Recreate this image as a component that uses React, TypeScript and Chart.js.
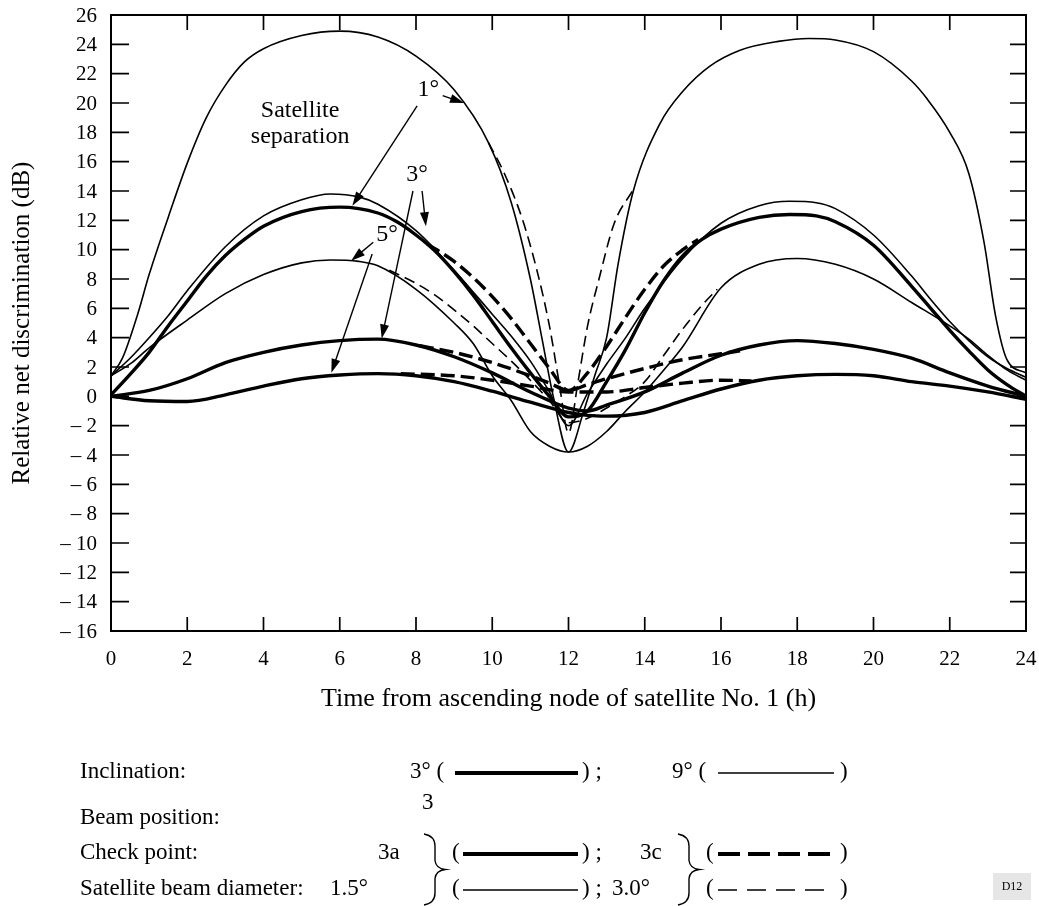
import { useEffect, useRef } from "react";
import { Chart, registerables } from "chart.js";

Chart.register(...registerables);

const FONT = '"Liberation Serif", "Times New Roman", Times, serif';

const xTickValues = [0, 2, 4, 6, 8, 10, 12, 14, 16, 18, 20, 22, 24];
const yTickValues = [-16, -14, -12, -10, -8, -6, -4, -2, 0, 2, 4, 6, 8, 10, 12, 14, 16, 18, 20, 22, 24, 26];

// Inclination 9°, satellite separation 1°, beam 1.5° (thin solid)
const tA = [0, 0.3, 0.7, 1, 1.5, 2, 2.5, 3, 3.5, 4, 5, 6, 7, 8, 9, 9.9, 10.5, 11, 11.3, 11.6, 12, 12.4, 12.7, 13, 13.3, 13.7, 14.4, 15, 15.7, 16.5, 17.5, 18.3, 19, 20, 21, 21.4, 22, 22.5, 22.9, 23.2, 23.5, 24];
const vA = [1.4, 2.6, 5.6, 8.3, 12.2, 15.9, 19, 21.2, 22.8, 23.7, 24.6, 24.9, 24.5, 23.2, 20.9, 17.3, 13.2, 8, 4, 0, -3.8, -1.0, 1.5, 4, 9, 14, 18.6, 20.8, 22.5, 23.6, 24.2, 24.4, 24.3, 23.5, 21.5, 20.3, 18, 15.2, 10.5, 5.5, 2.5, 1.6];
// same, beam 3.0° (thin dashed, where it departs)
const tB = [9.9, 10.3, 10.8, 11.2, 11.5, 11.75, 12, 12.25, 12.5, 12.8, 13.2, 13.7];
const vB = [17.3, 15.3, 12.0, 8.3, 4.8, 1.0, -2.5, 1.0, 4.8, 8.0, 11.8, 14.1];
// Inclination 9°, separation 3° (thin solid)
const tC = [0, 0.5, 1, 1.5, 2, 3, 4, 5, 5.75, 6.5, 7, 8, 9, 10, 10.5, 11, 11.5, 12, 12.5, 13, 13.5, 14, 15, 16, 17, 17.8, 18.5, 19, 20, 21, 21.5, 22, 22.5, 23, 23.5, 24];
const vC = [1.4, 2.6, 4, 5.5, 7.2, 10.2, 12.3, 13.4, 13.8, 13.6, 13.1, 11.3, 8.6, 5.6, 4.1, 2.4, 0.3, -2.0, 0.2, 2.2, 4, 6, 9.4, 11.8, 13, 13.3, 13.2, 12.8, 11, 8.2, 6.6, 5.1, 3.8, 2.7, 1.9, 1.3];
// Inclination 3°, separation 1° (thick solid)
const tD = [0, 0.5, 1, 1.5, 2, 2.5, 3, 3.5, 4, 5, 6, 7, 7.5, 8, 8.5, 9, 9.5, 10, 10.5, 11, 11.5, 12, 12.5, 13, 13.5, 14, 14.5, 15, 15.5, 16, 17, 17.8, 18.5, 19, 20, 21, 21.5, 22, 22.5, 23, 23.5, 24];
const vD = [0.1, 1.5, 3, 4.8, 6.5, 8.2, 9.6, 10.7, 11.6, 12.6, 12.9, 12.5, 11.9, 11, 9.9, 8.5, 6.9, 5.1, 3.3, 1.6, 0, -1.4, -1, 1, 3.2, 5.7, 7.9, 9.6, 10.7, 11.4, 12.2, 12.4, 12.3, 11.9, 10.3, 7.5, 6, 4.5, 3.1, 1.8, 0.8, 0];
// Inclination 3°, separation 3° (thick solid)
const tE = [0, 1, 2, 3, 4, 5, 6, 7, 8, 9, 10, 11, 12, 12.5, 13, 14, 15, 16, 17, 18, 19, 20, 21, 22, 23, 24];
const vE = [0, 0.4, 1.2, 2.3, 3.0, 3.5, 3.8, 3.9, 3.5, 2.7, 1.6, 0.3, -0.8, -1.0, -0.6, 0.3, 1.6, 2.8, 3.5, 3.8, 3.6, 3.2, 2.6, 1.6, 0.7, 0];
// Inclination 3°, separation 5° (thick solid)
const tF = [0, 1, 2, 3, 4, 5, 6, 7, 8, 9, 10, 11, 12, 12.5, 13, 14, 15, 16, 17, 18, 19, 20, 21, 22, 23, 24];
const vF = [0, -0.3, -0.35, 0.1, 0.7, 1.2, 1.45, 1.55, 1.4, 1.0, 0.35, -0.4, -1.1, -1.3, -1.35, -1.1, -0.3, 0.5, 1.1, 1.4, 1.5, 1.4, 1.0, 0.7, 0.3, -0.2];
// Inclination 9°, separation 5° (thin solid)
const tG = [0, 0.55, 1, 2, 3, 4, 5, 5.75, 6.5, 7, 8, 9, 9.5, 10, 10.5, 11, 11.5, 12, 12.5, 13, 13.5, 14, 14.5, 15, 16, 17, 18, 19, 20, 21, 22, 22.5, 23, 23.5, 24];
const vG = [1.4, 2.3, 3.3, 5.2, 7.0, 8.3, 9.1, 9.3, 9.2, 8.9, 7.3, 5.0, 3.6, 1.4, -0.3, -2.4, -3.4, -3.8, -3.4, -2.4, -1.0, 0.3, 1.8, 3.4, 7.4, 9.0, 9.4, 9.0, 8.0, 6.4, 4.8, 3.9, 2.8, 1.8, 1.1];
// separation 5°, beam 3.0° (thin dashed)
const tH = [7.3, 8, 8.5, 9, 9.5, 10, 10.5, 11, 11.5, 12, 12.5, 13, 13.5, 14, 14.5, 15, 15.5, 15.9];
const vH = [8.6, 7.7, 6.9, 5.9, 4.8, 3.6, 2.4, 1.1, -0.3, -1.8, -1.5, -0.8, 0, 1.0, 2.8, 4.6, 6.2, 7.3];
// check point 3c (thick dashed)
const tI = [8.3, 9, 9.5, 10, 10.5, 11, 11.5, 12, 12.5, 13, 13.5, 14, 14.5, 15, 15.4];
const vI = [10.4, 9.2, 8.1, 6.8, 5.3, 3.6, 1.9, 0.4, 1.6, 3.4, 5.4, 7.3, 8.9, 10.0, 10.7];
const tJ = [8.1, 9, 10, 11, 11.5, 12, 12.5, 13, 14, 15, 16, 16.5];
const vJ = [3.45, 3.0, 2.3, 1.4, 0.9, 0.4, 0.8, 1.2, 1.9, 2.5, 2.9, 3.1];
const tK = [7.6, 9, 10, 11, 12, 13, 14, 15, 16, 16.8];
const vK = [1.55, 1.4, 1.1, 0.7, 0.3, 0.3, 0.6, 0.9, 1.1, 1.05];

const THIN = 1.6;
const THICK = 3.4;
const THIN_DASH = [11, 6];
const THICK_DASH = [14, 6];

function pts(t: number[], v: number[]) {
  return t.map((x, i) => ({ x, y: v[i] }));
}

function ds(t: number[], v: number[], w: number, dash: number[]) {
  return {
    data: pts(t, v),
    borderColor: "#000",
    borderWidth: w,
    borderDash: dash,
    pointRadius: 0,
    fill: false,
    cubicInterpolationMode: "monotone" as const,
  };
}

function tickLabel(v: number) {
  return v < 0 ? "\u2013 " + Math.abs(v) : String(v);
}

function arrow(ctx: CanvasRenderingContext2D, x1: number, y1: number, x2: number, y2: number) {
  const ang = Math.atan2(y2 - y1, x2 - x1);
  const L = 14, Wd = 4.5;
  ctx.beginPath();
  ctx.moveTo(x1, y1);
  ctx.lineTo(x2 - Math.cos(ang) * L * 0.7, y2 - Math.sin(ang) * L * 0.7);
  ctx.lineWidth = 1.4;
  ctx.stroke();
  ctx.beginPath();
  ctx.moveTo(x2, y2);
  ctx.lineTo(x2 - Math.cos(ang) * L + Math.sin(ang) * Wd, y2 - Math.sin(ang) * L - Math.cos(ang) * Wd);
  ctx.lineTo(x2 - Math.cos(ang) * L - Math.sin(ang) * Wd, y2 - Math.sin(ang) * L + Math.cos(ang) * Wd);
  ctx.closePath();
  ctx.fill();
}

function brace(ctx: CanvasRenderingContext2D, xl: number, y0: number, y1: number) {
  const xm = xl + 11, xp = xl + 21, ym = (y0 + y1) / 2;
  ctx.beginPath();
  ctx.moveTo(xl, y0);
  ctx.quadraticCurveTo(xm, y0 + 2, xm, y0 + 12);
  ctx.lineTo(xm, ym - 9);
  ctx.quadraticCurveTo(xm + 1, ym - 1, xp, ym);
  ctx.quadraticCurveTo(xm + 1, ym + 1, xm, ym + 9);
  ctx.lineTo(xm, y1 - 12);
  ctx.quadraticCurveTo(xm, y1 - 2, xl, y1);
  ctx.lineWidth = 1.4;
  ctx.stroke();
}

const decor = {
  id: "decor",
  afterDraw(chart: any) {
    const { ctx, chartArea: a, scales } = chart;
    const x = scales.x, y = scales.y;
    const X = (t: number) => x.getPixelForValue(t);
    const Y = (v: number) => y.getPixelForValue(v);
    ctx.save();
    ctx.strokeStyle = "#000";
    ctx.fillStyle = "#000";
    ctx.setLineDash([]);
    // frame
    ctx.lineWidth = 2;
    ctx.strokeRect(a.left, a.top, a.right - a.left, a.bottom - a.top);
    // inner ticks
    ctx.lineWidth = 1.7;
    ctx.beginPath();
    for (const v of yTickValues) {
      if (v === yTickValues[0] || v === yTickValues[yTickValues.length - 1]) continue;
      const py = Y(v);
      ctx.moveTo(a.left, py);
      ctx.lineTo(a.left + 18, py);
      ctx.moveTo(a.right, py);
      ctx.lineTo(a.right - 16, py);
    }
    for (const v of xTickValues) {
      if (v === xTickValues[0] || v === xTickValues[xTickValues.length - 1]) continue;
      const px = X(v);
      ctx.moveTo(px, a.bottom);
      ctx.lineTo(px, a.bottom - 14);
      ctx.moveTo(px, a.top);
      ctx.lineTo(px, a.top + 15);
    }
    ctx.stroke();

    // tick labels
    ctx.font = `21px ${FONT}`;
    ctx.textBaseline = "middle";
    ctx.textAlign = "right";
    for (const v of yTickValues) ctx.fillText(tickLabel(v), a.left - 14, Y(v) + 1);
    ctx.textAlign = "center";
    for (const v of xTickValues) ctx.fillText(tickLabel(v), X(v), a.bottom + 28);

    // annotations
    ctx.font = `24px ${FONT}`;
    ctx.fillText("Satellite", X(4.96), Y(19.5));
    ctx.fillText("separation", X(4.96), Y(17.7));
    ctx.fillText("1°", X(8.32), Y(20.9));
    ctx.fillText("3°", X(8.03), Y(15.1));
    ctx.fillText("5°", X(7.24), Y(11.0));
    arrow(ctx, X(8.7), Y(20.5), X(9.26), Y(20.0));
    arrow(ctx, X(8.03), Y(19.8), X(6.33), Y(13.0));
    arrow(ctx, X(8.16), Y(14.0), X(8.26), Y(11.6));
    arrow(ctx, X(7.92), Y(14.0), X(7.1), Y(3.95));
    arrow(ctx, X(6.88), Y(10.5), X(6.3), Y(9.25));
    arrow(ctx, X(6.85), Y(9.7), X(5.78), Y(1.6));

    // axis titles
    ctx.font = `26px ${FONT}`;
    ctx.fillText("Time from ascending node of satellite No. 1 (h)", (a.left + a.right) / 2, 699);
    ctx.save();
    ctx.translate(22, (a.top + a.bottom) / 2);
    ctx.rotate(-Math.PI / 2);
    ctx.font = `25px ${FONT}`;
    ctx.fillText("Relative net discrimination (dB)", 0, 0);
    ctx.restore();

    // legend
    ctx.font = `23px ${FONT}`;
    ctx.textAlign = "left";
    const lx = 80;
    const r1 = 772, r0 = 803, r2 = 818, r3 = 853, r4 = 889;
    ctx.fillText("Inclination:", lx, r1);
    ctx.fillText("Beam position:", lx, r2);
    ctx.fillText("Check point:", lx, r3);
    ctx.fillText("Satellite beam diameter:", lx, r4);
    ctx.fillText("3° (", 410, r1);
    ctx.fillText(") ;", 582, r1);
    ctx.fillText("9° (", 672, r1);
    ctx.fillText(")", 840, r1);
    ctx.fillText("3", 422, r0);
    ctx.fillText("3a", 378, r3);
    ctx.fillText("(", 452, r3);
    ctx.fillText(") ;", 582, r3);
    ctx.fillText("3c", 640, r3);
    ctx.fillText("(", 706, r3);
    ctx.fillText(")", 840, r3);
    ctx.fillText("1.5°", 330, r4);
    ctx.fillText("(", 452, r4);
    ctx.fillText(") ;", 582, r4);
    ctx.fillText("3.0°", 612, r4);
    ctx.fillText("(", 706, r4);
    ctx.fillText(")", 840, r4);
    const seg = (x1: number, x2: number, yy: number, w: number, dash: number[]) => {
      ctx.beginPath();
      ctx.setLineDash(dash);
      ctx.lineWidth = w;
      ctx.moveTo(x1, yy);
      ctx.lineTo(x2, yy);
      ctx.stroke();
      ctx.setLineDash([]);
    };
    seg(455, 578, r1 + 1, 3.8, []);
    seg(718, 834, r1 + 1, 1.5, []);
    seg(463, 578, r3 + 1, 3.8, []);
    seg(718, 834, r3 + 1, 3.8, [22, 8]);
    seg(463, 578, r4 + 1, 1.5, []);
    seg(718, 834, r4 + 1, 1.5, [19, 10]);
    brace(ctx, 424, 834, 905);
    brace(ctx, 678, 834, 905);
    // D12 tag
    ctx.fillStyle = "#e6e6e6";
    ctx.fillRect(993, 873, 38, 27);
    ctx.fillStyle = "#000";
    ctx.font = `12px ${FONT}`;
    ctx.textAlign = "center";
    ctx.fillText("D12", 1012, 887);
    ctx.restore();
  },
};

export default function App() {
  const ref = useRef<HTMLCanvasElement | null>(null);
  useEffect(() => {
    if (!ref.current) return;
    const chart = new Chart(ref.current, {
      type: "line",
      data: {
        datasets: [
          ds(tA, vA, THIN, []),
          ds(tB, vB, THIN, THIN_DASH),
          ds(tC, vC, THIN, []),
          ds(tD, vD, THICK, []),
          ds(tE, vE, THICK, []),
          ds(tF, vF, THICK, []),
          ds(tG, vG, THIN, []),
          ds(tH, vH, THIN, THIN_DASH),
          ds(tI, vI, THICK, THICK_DASH),
          ds(tJ, vJ, THICK, THICK_DASH),
          ds(tK, vK, THICK, THICK_DASH),
        ],
      },
      options: {
        animation: false,
        responsive: false,
        events: [],
        layout: { padding: { top: 15, right: 13, left: 0, bottom: 215 } },
        plugins: { legend: { display: false }, tooltip: { enabled: false } },
        scales: {
          x: {
            type: "linear",
            min: 0,
            max: 24,
            afterBuildTicks: (s: any) => {
              s.ticks = xTickValues.map((value) => ({ value }));
            },
            afterFit: (s: any) => {
              s.height = 60;
            },
            grid: { display: false, drawTicks: false },
            border: { display: false },
            ticks: { display: false },
          },
          y: {
            type: "linear",
            min: -16,
            max: 26,
            afterBuildTicks: (s: any) => {
              s.ticks = yTickValues.map((value) => ({ value }));
            },
            afterFit: (s: any) => {
              s.width = 111;
            },
            grid: { display: false, drawTicks: false },
            border: { display: false },
            ticks: { display: false },
          },
        },
      },
      plugins: [decor],
    });
    return () => chart.destroy();
  }, []);
  return (
    <div style={{ position: "fixed", left: 0, top: 0, width: 1039, height: 906, background: "#fff" }}>
      <canvas ref={ref} width={1039} height={906} style={{ width: 1039, height: 906, display: "block" }} />
    </div>
  );
}
